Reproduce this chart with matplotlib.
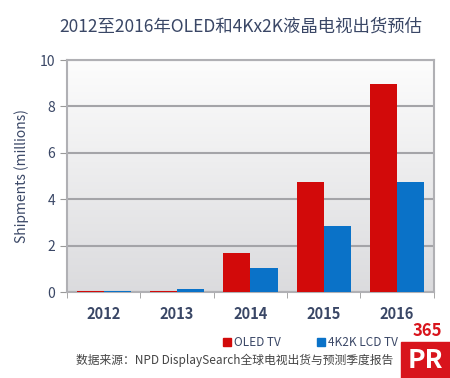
import matplotlib.pyplot as plt
import matplotlib.patches as mpatches
import numpy as np

plt.rcParams['font.family'] = ['Noto Sans CJK SC', 'DejaVu Sans']

years = ['2012', '2013', '2014', '2015', '2016']
oled_tv = [0.03, 0.03, 1.7, 4.75, 8.97]
lcd_4k2k = [0.04, 0.12, 1.05, 2.84, 4.75]

red = '#d20a0a'
blue = '#0a72c8'
text_col = '#3a4766'

fig = plt.figure(figsize=(4.5, 3.78), dpi=100)
ax = fig.add_axes([0.149, 0.2275, 0.815, 0.6135])

# light grey gradient background, white at top
t = np.linspace(0, 1, 100)
top = np.array([0.99, 0.99, 0.99])
bot = np.array([0.86, 0.86, 0.87])
grad = top[None, :] * (1 - t[:, None]) + bot[None, :] * t[:, None]
ax.imshow(grad[:, None, :], extent=[-0.5, 4.5, 0, 10], aspect='auto',
          origin='upper', zorder=0)

ind = np.arange(len(years))
w = 0.37
ax.bar(ind - w / 2, oled_tv, w, color=red, zorder=3)
ax.bar(ind + w / 2, lcd_4k2k, w, color=blue, zorder=3)

ax.set_xlim(-0.5, 4.5)
ax.set_ylim(0, 10)
ax.set_yticks([0, 2, 4, 6, 8, 10])
ax.yaxis.grid(True, color='#a4a4a8', linewidth=1.5, zorder=1)
ax.set_axisbelow(True)

ax.set_xticks(ind)
ax.set_xticklabels(years, fontsize=10.5, color=text_col, fontweight='bold')
ax.set_xticks(np.arange(-0.5, 5, 1), minor=True)
ax.tick_params(axis='x', which='major', length=0, pad=10)
ax.tick_params(axis='x', which='minor', length=4, color='#999999')
ax.tick_params(axis='y', labelsize=10, labelcolor=text_col, length=5, color='#999999')

for s in ax.spines.values():
    s.set_color('#b0b0b4')
    s.set_linewidth(1.5)

ax.set_ylabel('Shipments (millions)', fontsize=10, color=text_col, labelpad=8)

fig.text(0.535, 0.93, '2012至2016年OLED和4Kx2K液晶电视出货预估', ha='center', va='center',
         fontsize=12.5, color=text_col)

# legend
handles = [mpatches.Patch(color=red, label='OLED TV'),
           mpatches.Patch(color=blue, label='4K2K LCD TV')]
fig.legend(handles=handles, loc='center', bbox_to_anchor=(0.69, 0.093), ncol=2, frameon=False,
           fontsize=8.5, handlelength=0.7, handleheight=0.7, handletextpad=0.3, columnspacing=3.0,
           labelcolor=text_col)

fig.text(0.17, 0.048, '数据来源：NPD DisplaySearch全球电视出货与预测季度报告', ha='left', va='center',
         fontsize=8.5, color='#444444')

# 365PR logo
fig.patches.append(mpatches.Rectangle((0.89, 0.0), 0.11, 0.095, transform=fig.transFigure,
                                      color='#d8141c', zorder=5))
fig.text(0.945, 0.045, 'PR', ha='center', va='center', fontsize=19, fontweight='bold',
         color='white', zorder=6)
fig.text(0.95, 0.125, '365', ha='center', va='center', fontsize=12, fontweight='bold',
         color='#d8141c', zorder=6)

fig.savefig('out.png', dpi=100)
